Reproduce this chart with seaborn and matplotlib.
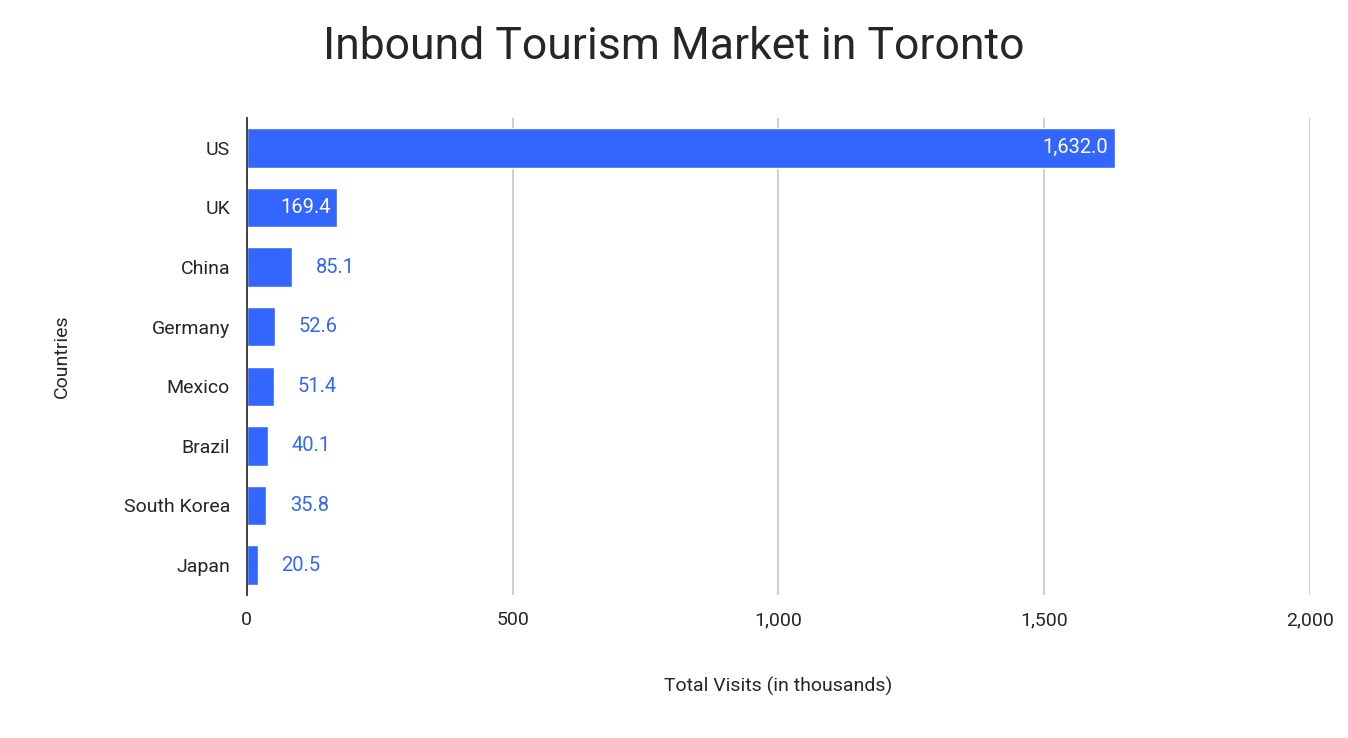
import matplotlib
matplotlib.use("Agg")
import matplotlib.pyplot as plt
import seaborn as sns
import pandas as pd

countries = ["US", "UK", "China", "Germany", "Mexico", "Brazil", "South Korea", "Japan"]
visits = [1632.0, 169.4, 85.1, 52.6, 51.4, 40.1, 35.8, 20.5]
x_ticks = [0, 500, 1000, 1500, 2000]

df = pd.DataFrame({"Country": countries, "Visits": visits})
bar_color = "#3366ff"

sns.set_style("white")
plt.rcParams["font.family"] = ["Roboto", "DejaVu Sans"]

fig = plt.figure(figsize=(13.48, 7.38), dpi=100)
ax = fig.add_axes([0.183, 0.194, 0.789, 0.646])

sns.barplot(data=df, y="Country", x="Visits", color=bar_color, width=0.66,
            saturation=1, ax=ax)

for i, v in enumerate(visits):
    if v > 150:
        ax.text(v - 12, i, f"{v:,.1f}", ha="right", va="center", color="white", fontsize=14.5)
    else:
        ax.text(v + 45, i, f"{v:,.1f}", ha="left", va="center", color=bar_color, fontsize=14.5)

ax.set_xlim(0, 2000)
ax.set_xticks(x_ticks)
ax.set_xticklabels([f"{t:,}" for t in x_ticks], fontsize=14)
ax.tick_params(axis="y", labelsize=14, length=0, pad=12)
ax.tick_params(axis="x", length=0, pad=12)
ax.xaxis.grid(True, color="#cccccc", linewidth=1.3)
ax.set_axisbelow(True)
for s in ["top", "right", "bottom"]:
    ax.spines[s].set_visible(False)
ax.spines["left"].set_color("#333333")
ax.spines["left"].set_linewidth(1.3)

ax.set_xlabel("Total Visits (in thousands)", fontsize=14, labelpad=34)
ax.set_ylabel("Countries", fontsize=14, labelpad=38)
fig.suptitle("Inbound Tourism Market in Toronto", fontsize=32, y=0.965, x=0.5)

fig.savefig("out.png", dpi=100)
